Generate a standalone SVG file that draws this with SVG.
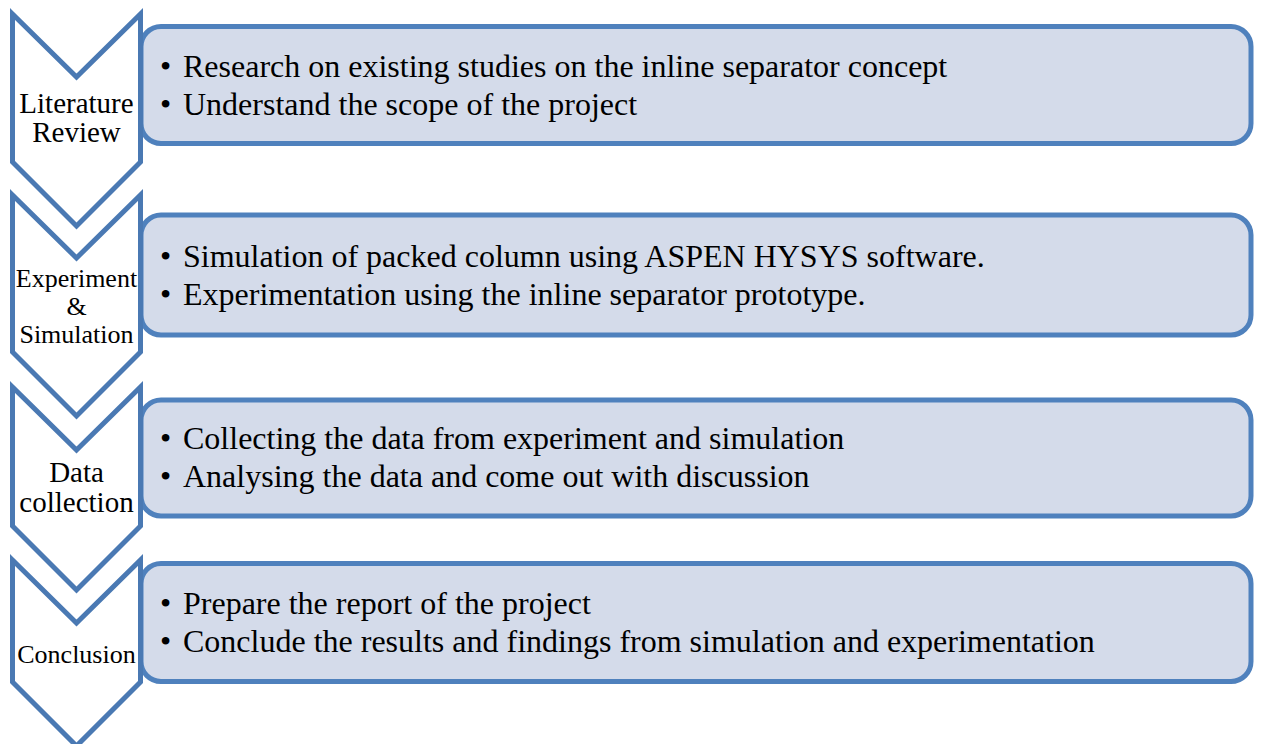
<svg xmlns="http://www.w3.org/2000/svg" width="1262" height="744" viewBox="0 0 1262 744">
<style>
.box{fill:#D4DBEA;stroke:#4F81BD;stroke-width:5}
.chev{fill:#FFFFFF;stroke:#4A79B3;stroke-width:5;stroke-linejoin:miter}
.lbl{font-family:"Liberation Serif","Times New Roman",serif;fill:#000;text-anchor:middle}
.bt{font-family:"Liberation Serif","Times New Roman",serif;font-size:32px;fill:#000}
</style>
<rect width="1262" height="744" fill="#FFFFFF"/>
<g id="step1">
<rect class="box" x="141" y="26.5" width="1110" height="117" rx="20" ry="20"/>
<polygon class="chev" points="12.5,14 76.5,77 140.5,14 140.5,162 76.5,226 12.5,162"/>
<text class="lbl" font-size="29" x="76.5" y="113">Literature</text>
<text class="lbl" font-size="29" x="76.5" y="142">Review</text>
<text class="bt" x="160" y="77">•</text><text class="bt" x="183" y="77">Research on existing studies on the inline separator concept</text>
<text class="bt" x="160" y="115">•</text><text class="bt" x="183" y="115">Understand the scope of the project</text>
</g>
<g id="step2">
<rect class="box" x="141" y="215" width="1110" height="120" rx="20" ry="20"/>
<polygon class="chev" points="12.5,195 76.5,258 140.5,195 140.5,352 76.5,416 12.5,352"/>
<text class="lbl" font-size="26" x="76.5" y="287">Experiment</text>
<text class="lbl" font-size="26" x="76.5" y="315">&amp;</text>
<text class="lbl" font-size="26" x="76.5" y="343">Simulation</text>
<text class="bt" x="160" y="267">•</text><text class="bt" x="183" y="267">Simulation of packed column using ASPEN HYSYS software.</text>
<text class="bt" x="160" y="305">•</text><text class="bt" x="183" y="305">Experimentation using the inline separator prototype.</text>
</g>
<g id="step3">
<rect class="box" x="141" y="400" width="1110" height="116" rx="20" ry="20"/>
<polygon class="chev" points="12.5,387 76.5,450 140.5,387 140.5,526 76.5,590 12.5,526"/>
<text class="lbl" font-size="29" x="76.5" y="482">Data</text>
<text class="lbl" font-size="29" x="76.5" y="512">collection</text>
<text class="bt" x="160" y="449">•</text><text class="bt" x="183" y="449">Collecting the data from experiment and simulation</text>
<text class="bt" x="160" y="487">•</text><text class="bt" x="183" y="487">Analysing the data and come out with discussion</text>
</g>
<g id="step4">
<rect class="box" x="141" y="563.5" width="1110" height="118" rx="20" ry="20"/>
<polygon class="chev" points="12.5,560 76.5,623 140.5,560 140.5,682 76.5,746 12.5,682"/>
<text class="lbl" font-size="26" x="76.5" y="663">Conclusion</text>
<text class="bt" x="160" y="614">•</text><text class="bt" x="183" y="614">Prepare the report of the project</text>
<text class="bt" x="160" y="652">•</text><text class="bt" x="183" y="652">Conclude the results and findings from simulation and experimentation</text>
</g>
<g id="connectors"></g>
</svg>
